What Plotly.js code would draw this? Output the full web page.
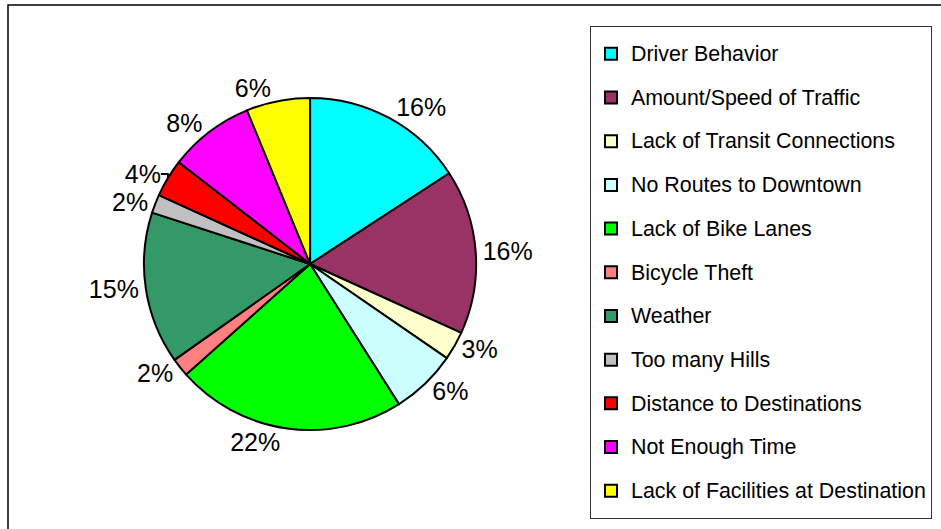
<!DOCTYPE html>
<html>
<head>
<meta charset="utf-8">
<script src="https://cdn.plot.ly/plotly-3.0.1.min.js"></script>
<style>
  html, body { margin: 0; padding: 0; background: #fff; }
  #barriers_chart { width: 941px; height: 529px; }
</style>
</head>
<body>
<div id="barriers_chart"></div>
<script>
const reasons = [
    'Driver Behavior',
    'Amount/Speed of Traffic',
    'Lack of Transit Connections',
    'No Routes to Downtown',
    'Lack of Bike Lanes',
    'Bicycle Theft',
    'Weather',
    'Too many Hills',
    'Distance to Destinations',
    'Not Enough Time',
    'Lack of Facilities at Destination'
];
const shares = [15.8, 16.0, 2.8, 6.4, 22.4, 1.8, 14.8, 1.8, 3.7, 8.3, 6.2];
const slice_colors = ['#00FFFF', '#993366', '#FFFFCC', '#CCFFFF', '#00FF00', '#FF8080',
    '#339966', '#C0C0C0', '#FF0000', '#FF00FF', '#FFFF00'];

document.addEventListener("DOMContentLoaded", () => {
    build_barriers_chart();
})

const build_barriers_chart = () => {
    const barriers_chart = document.querySelector("#barriers_chart");
    // legend text is drawn smaller than the legend font so rows get Excel-like spacing
    const legend_names = reasons.map(r => '<span style="font-size:21.4px;baseline-shift:5px">' + r + '</span>');

    var data = [{
        type: 'pie',
        values: shares,
        labels: legend_names,
        sort: false,
        direction: 'clockwise',
        rotation: 0,
        marker: { colors: slice_colors, line: { color: '#000', width: 2 } },
        textposition: 'outside',
        texttemplate: '%{percent:.0%}',
        outsidetextfont: { family: 'Liberation Sans, Arial, sans-serif', size: 25, color: '#000' },
        domain: { x: [0.153, 0.506], y: [0.187, 0.815] },
        hoverinfo: 'none'
    }];

    var layout = {
        width: 941,
        height: 529,
        margin: { l: 0, r: 0, t: 0, b: 0 },
        paper_bgcolor: '#fff',
        font: { family: 'Liberation Sans, Arial, sans-serif', color: '#000' },
        showlegend: true,
        legend: {
            x: 590 / 941, y: 1 - 26 / 529, xanchor: 'left', yanchor: 'top',
            bordercolor: '#333', borderwidth: 1, bgcolor: '#fff',
            font: { size: 31.3, color: '#000' }
        },
        shapes: [{
            type: 'rect', xref: 'paper', yref: 'paper',
            x0: 8 / 941, x1: 1.05, y0: -0.05, y1: 1 - 5 / 529,
            line: { color: '#000', width: 1.5 }
        }]
    };

    Plotly.newPlot(barriers_chart, data, layout, { displayModeBar: false, staticPlot: true });
}
</script>
</body>
</html>
